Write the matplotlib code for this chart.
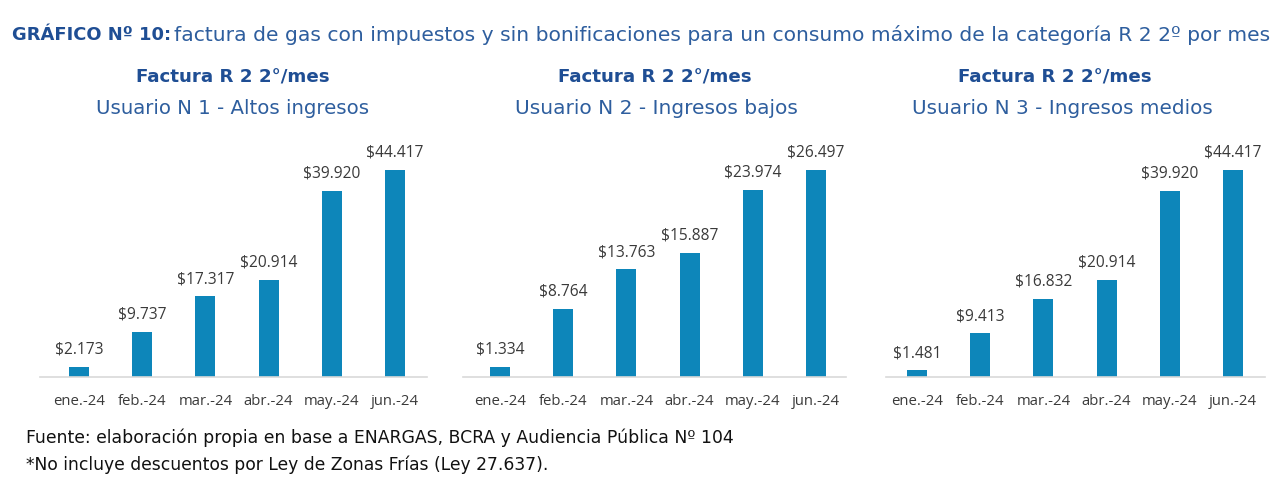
import matplotlib
matplotlib.use("Agg")
import matplotlib.pyplot as plt

months = ["ene.-24", "feb.-24", "mar.-24", "abr.-24", "may.-24", "jun.-24"]
user1 = [2173, 9737, 17317, 20914, 39920, 44417]
user2 = [1334, 8764, 13763, 15887, 23974, 26497]
user3 = [1481, 9413, 16832, 20914, 39920, 44417]
panel_titles = ["Factura R 2 2°/mes"] * 3
panel_subtitles = ["Usuario N 1 - Altos ingresos",
                   "Usuario N 2 - Ingresos bajos",
                   "Usuario N 3 - Ingresos medios"]

BAR = "#0D86BA"
DARK = "#1F4E94"
LIGHT = "#2E5E9E"
W, H = 1280, 495
fig = plt.figure(figsize=(12.8, 4.95), dpi=100)
fig.patch.set_facecolor("white")
renderer = fig.canvas.get_renderer()
TFONT = "DejaVu Sans"


def fit_text(x, y, s, target_w, fs=12, **kw):
    t = fig.text(x / W, 1 - y / H, s, fontsize=fs, family=TFONT, **kw)
    w = t.get_window_extent(renderer).width
    t.set_fontsize(fs * target_w / w)
    return t


def fmt(v):
    return "$" + f"{v:,}".replace(",", ".")

# axes positions in pixels: (left, right, ene-centre, jun-centre)
panels = [(40, 427, 79, 395), (463, 846, 500, 816), (886, 1265, 917, 1233)]
series = [user1, user2, user3]
title_x = [233, 655, 1055]
sub_x = [233, 656, 1062]
sub_w = [273, 282, 300]
base_y = 377
top_bar = 170

for (l, r, c0, c5), vals, tx, sx, sw, t, st in zip(panels, series, title_x, sub_x, sub_w,
                                                   panel_titles, panel_subtitles):
    step = (c5 - c0) / 5
    xmin = -(c0 - l) / step
    xmax = 5 + (r - c5) / step
    ymax_fac = 1.14
    h = (base_y - top_bar) * ymax_fac
    ax = fig.add_axes([l / W, (H - base_y) / H, (r - l) / W, h / H])
    x = list(range(len(months)))
    ax.bar(x, vals, width=20 / step, color=BAR, zorder=2)
    ax.set_xlim(xmin, xmax)
    ax.set_ylim(0, max(vals) * ymax_fac)
    for xi, v in zip(x, vals):
        ax.annotate(fmt(v), (xi, v), xytext=(0, 9), textcoords="offset pixels",
                    ha="center", va="bottom", fontsize=11.2, color="#3A3A3A",
                    family="Open Sans")
    ax.set_xticks(x)
    ax.set_xticklabels(months, fontsize=10.7, color="#3A3A3A", family="Open Sans")
    ax.tick_params(axis="x", length=0, pad=12)
    ax.set_yticks([])
    for s in ["top", "right", "left"]:
        ax.spines[s].set_visible(False)
    ax.spines["bottom"].set_color("#D9D9D9")
    ax.spines["bottom"].set_linewidth(1.2)
    fit_text(tx, 78, t, 193, fs=13, ha="center", va="center",
             fontweight="bold", color=DARK)
    fit_text(sx, 109, st, sw, fs=13, ha="center", va="center", color=LIGHT)

fit_text(12, 35, "GRÁFICO Nº 10:", 158, fs=13, ha="left", va="center",
         fontweight="bold", color=DARK)
fit_text(174, 35,
         "factura de gas con impuestos y sin bonificaciones para un consumo máximo de la categoría R 2 2º por mes",
         1094, fs=13, ha="left", va="center", color=LIGHT)

fit_text(26, 438,
         "Fuente: elaboración propia en base a ENARGAS, BCRA y Audiencia Pública Nº 104",
         709, fs=11.5, ha="left", va="center", color="#111111")
fit_text(26, 465,
         "*No incluye descuentos por Ley de Zonas Frías (Ley 27.637).",
         522, fs=11.5, ha="left", va="center", color="#111111")

fig.savefig("out.png", dpi=100, facecolor="white")
